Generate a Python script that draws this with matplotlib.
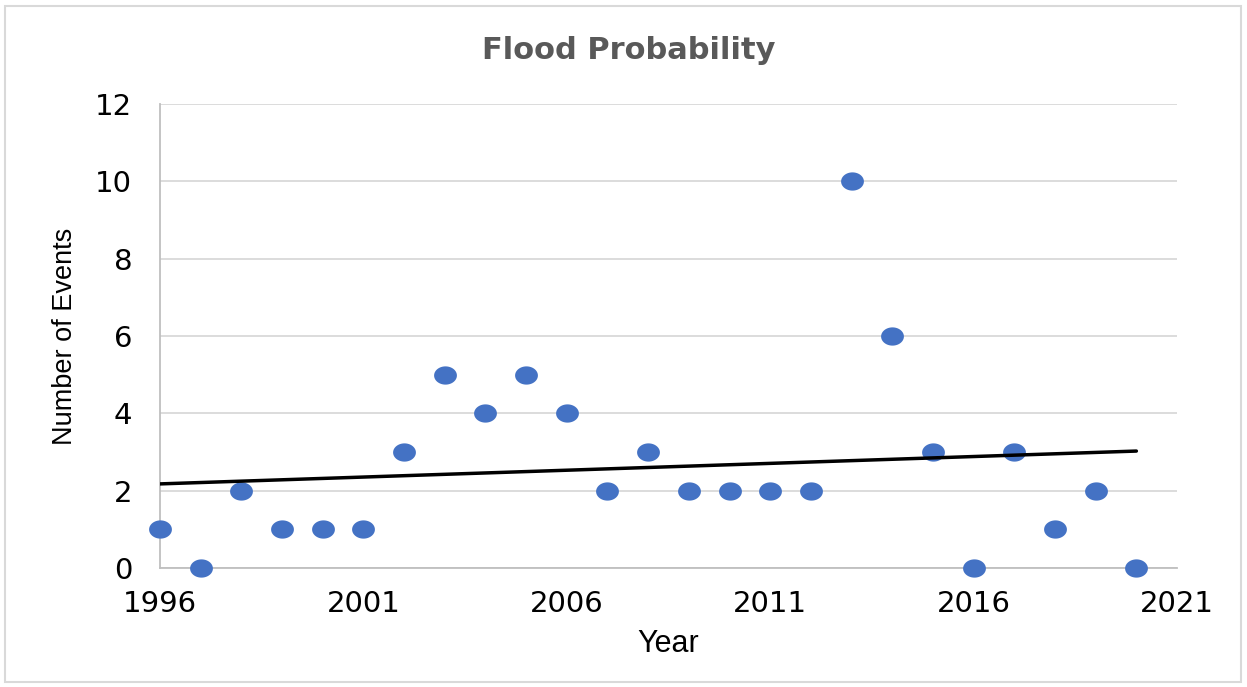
import numpy as np
import matplotlib
matplotlib.use("Agg")
import matplotlib.pyplot as plt
from matplotlib.path import Path
from matplotlib.patches import Rectangle

years = list(range(1996, 2021))
events = [1, 0, 2, 1, 1, 1, 3, 5, 4, 5, 4, 2, 3, 2, 2, 2, 2, 10, 6, 3, 0, 3, 1, 2, 0]
x_ticks = [1996, 2001, 2006, 2011, 2016, 2021]
y_ticks = [0, 2, 4, 6, 8, 10, 12]

fig = plt.figure(figsize=(12.47, 6.87), dpi=100)
fig.patches.append(Rectangle((0.004, 0.008), 0.991, 0.983, transform=fig.transFigure,
                             fill=False, edgecolor="#d9d9d9", linewidth=1.5))
ax = fig.add_axes([0.1283, 0.1732, 0.8156, 0.6754])

# ellipse marker
t = np.linspace(0, 2 * np.pi, 60)
ell = Path(np.column_stack([1.25 * np.cos(t), np.sin(t)]), closed=True)

ax.scatter(years, events, marker=ell, s=270, color="#4472C4", zorder=3, clip_on=False, linewidths=0)

coef = np.polyfit(years, events, 1)
xt = np.array([years[0], years[-1]])
ax.plot(xt, np.polyval(coef, xt), color="black", lw=2.5, zorder=4, solid_capstyle="round")

ax.set_xlim(1996, 2021)
ax.set_ylim(0, 12)
ax.set_xticks(x_ticks)
ax.set_yticks(y_ticks)
ax.tick_params(length=0, labelsize=21)
ax.tick_params(axis="y", pad=20)
ax.tick_params(axis="x", pad=16)
ax.grid(axis="y", color="#d9d9d9", lw=1.3)
ax.set_axisbelow(True)
for s in ["top", "right"]:
    ax.spines[s].set_visible(False)
for s in ["left", "bottom"]:
    ax.spines[s].set_color("#bfbfbf")
    ax.spines[s].set_linewidth(1.3)

fig.text(0.504, 0.927, "Flood Probability", ha="center", va="center", fontsize=22,
         fontweight="bold", color="#595959")
fig.text(0.536, 0.063, "Year", ha="center", va="center", fontsize=22, color="black",
         family=["Liberation Sans", "DejaVu Sans"])
fig.text(0.052, 0.51, "Number of Events", ha="center", va="center", rotation=90, fontsize=19.5,
         color="black", family=["Liberation Sans Narrow", "Liberation Sans", "DejaVu Sans"],
         fontstretch="condensed")

fig.savefig("out.png", dpi=100)
